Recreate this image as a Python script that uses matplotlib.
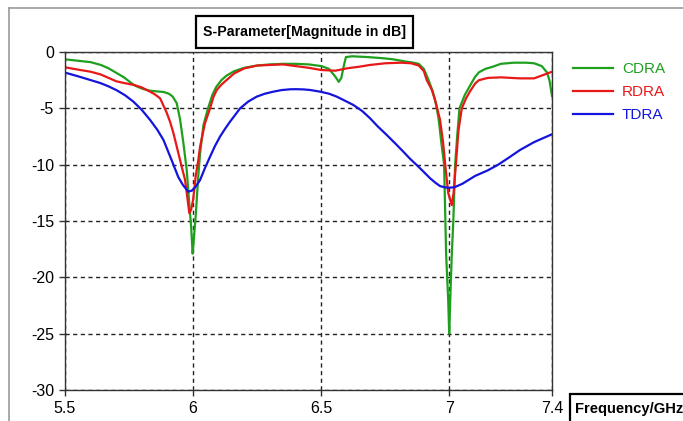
import matplotlib
matplotlib.use("Agg")
import matplotlib.pyplot as plt
from matplotlib.patches import Rectangle
from matplotlib.lines import Line2D

plt.rcParams['font.family'] = ['Liberation Sans', 'DejaVu Sans']
plt.rcParams['axes.unicode_minus'] = False

# CDRA (green)
cdra_f = [5.50, 5.56, 5.60, 5.64, 5.67, 5.70, 5.73, 5.77, 5.80, 5.83, 5.86, 5.885,
          5.905, 5.92, 5.936, 5.949, 5.962, 5.975, 5.985, 5.992, 5.998, 6.003, 6.01,
          6.02, 6.027, 6.04, 6.058, 6.075, 6.09, 6.11, 6.13, 6.16, 6.20, 6.25, 6.30,
          6.35, 6.40, 6.45, 6.50, 6.53, 6.555, 6.568, 6.578, 6.588, 6.596, 6.62, 6.68,
          6.74, 6.78, 6.83, 6.86, 6.88, 6.90, 6.915, 6.935, 6.948, 6.958, 6.968, 6.979,
          6.984, 6.987, 6.995, 6.999, 7.003, 7.009, 7.015, 7.022, 7.03, 7.039, 7.06,
          7.08, 7.10, 7.115, 7.14, 7.17, 7.20, 7.25, 7.30, 7.33, 7.36, 7.38, 7.39, 7.40]
cdra_db = [-0.65, -0.8, -0.9, -1.15, -1.45, -1.85, -2.25, -2.95, -3.25, -3.43, -3.5, -3.55,
           -3.7, -3.95, -4.55, -6.0, -8.1, -10.5, -13.5, -15.5, -17.9, -16.5, -14.5,
           -11.0, -9.0, -6.5, -5.0, -3.8, -3.1, -2.5, -2.1, -1.7, -1.4, -1.2, -1.1,
           -1.05, -1.05, -1.1, -1.25, -1.5, -2.2, -2.65, -2.3, -1.2, -0.45, -0.38, -0.45,
           -0.55, -0.65, -0.85, -0.95, -1.05, -1.5, -2.3, -3.5, -4.7, -6.0, -8.0, -10.0,
           -15.0, -18.0, -22.0, -25.0, -22.0, -18.0, -15.0, -10.0, -7.5, -5.0, -3.8,
           -3.0, -2.2, -1.8, -1.5, -1.3, -1.05, -0.95, -0.95, -1.0, -1.25, -1.8, -2.5, -3.9]

# RDRA (red)
rdra_f = [5.50, 5.56, 5.60, 5.64, 5.66, 5.70, 5.73, 5.77, 5.80, 5.83, 5.85, 5.871,
          5.889, 5.897, 5.91, 5.923, 5.936, 5.949, 5.96, 5.968, 5.975, 5.985, 5.992,
          6.0, 6.01, 6.02, 6.027, 6.046, 6.066, 6.079, 6.092, 6.11, 6.131, 6.16, 6.20,
          6.25, 6.30, 6.35, 6.40, 6.45, 6.50, 6.555, 6.60, 6.65, 6.69, 6.75, 6.81, 6.85,
          6.88, 6.90, 6.911, 6.93, 6.944, 6.963, 6.975, 6.983, 6.995, 7.009, 7.016,
          7.025, 7.035, 7.048, 7.065, 7.08, 7.10, 7.115, 7.15, 7.20, 7.275, 7.33,
          7.366, 7.40]
rdra_db = [-1.36, -1.6, -1.75, -2.0, -2.2, -2.6, -2.75, -2.93, -3.15, -3.5, -3.75, -4.11,
           -5.0, -5.4, -6.2, -7.2, -8.4, -9.6, -10.6, -11.3, -12.5, -14.3, -14.0,
           -13.1, -11.0, -9.6, -8.4, -6.33, -5.0, -4.0, -3.37, -2.9, -2.48, -1.9, -1.45,
           -1.2, -1.15, -1.1, -1.25, -1.4, -1.6, -1.66, -1.45, -1.3, -1.15, -1.0, -0.95, -1.0,
           -1.2, -1.7, -2.48, -3.3, -4.26, -6.0, -8.0, -9.9, -12.5, -13.6, -12.5,
           -10.0, -7.0, -5.0, -4.1, -3.5, -2.8, -2.5, -2.3, -2.25, -2.34, -2.34,
           -2.04, -1.75]

# TDRA (blue)
tdra_f = [5.50, 5.55, 5.598, 5.637, 5.67, 5.702, 5.735, 5.767, 5.80, 5.832, 5.86,
          5.884, 5.916, 5.942, 5.96, 5.981, 5.995, 6.01, 6.027, 6.046, 6.066, 6.085,
          6.105, 6.125, 6.144, 6.165, 6.183, 6.215, 6.248, 6.28, 6.313, 6.345, 6.378,
          6.40, 6.43, 6.456, 6.495, 6.53, 6.56, 6.59, 6.625, 6.66, 6.69, 6.72, 6.755,
          6.79, 6.82, 6.845, 6.872, 6.90, 6.924, 6.945, 6.963, 6.98, 6.995, 7.02,
          7.05, 7.10, 7.15, 7.19, 7.23, 7.275, 7.33, 7.40]
tdra_db = [-1.83, -2.15, -2.48, -2.75, -3.05, -3.4, -3.85, -4.41, -5.15, -6.03, -6.9,
           -7.8, -9.6, -11.1, -11.8, -12.4, -12.3, -11.95, -11.36, -10.3, -9.29, -8.35,
           -7.5, -6.8, -6.18, -5.55, -5.0, -4.4, -3.96, -3.7, -3.52, -3.38, -3.31,
           -3.3, -3.32, -3.37, -3.52, -3.7, -3.96, -4.3, -4.7, -5.25, -5.88, -6.6, -7.36,
           -8.15, -8.85, -9.45, -10.03, -10.65, -11.2, -11.6, -11.9, -12.0, -12.05, -12.0,
           -11.7, -11.0, -10.5, -10.0, -9.4, -8.7, -8.0, -7.3]

x_ticks = [5.5, 6, 6.5, 7, 7.4]
x_labels = ['5.5', '6', '6.5', '7', '7.4']
y_ticks = [-30, -25, -20, -15, -10, -5, 0]

W, H = 683, 421
fig = plt.figure(figsize=(W / 100, H / 100), dpi=100)
ax = fig.add_axes([65 / W, 1 - 390 / H, (552 - 65) / W, (390 - 52) / H])

green, red, blue = '#1ea01e', '#e81818', '#1414dc'
ax.plot(cdra_f, cdra_db, color=green, lw=1.6, label='CDRA')
ax.plot(rdra_f, rdra_db, color=red, lw=1.6, label='RDRA')
ax.plot(tdra_f, tdra_db, color=blue, lw=1.6, label='TDRA')

ax.set_xlim(5.5, 7.4)
ax.set_ylim(-30, 0)
ax.set_xticks(x_ticks)
ax.set_xticklabels(x_labels)
ax.set_yticks(y_ticks)
ax.tick_params(labelsize=11.5, length=4, width=1, color='#333333', pad=4)
ax.grid(True, color='#222222', linestyle=(0, (3, 2.5)), lw=1)
for s in ax.spines.values():
    s.set_color('#333333')
    s.set_linewidth(1)

ax.legend(loc='upper left', bbox_to_anchor=(567 / W, 1 - 56 / H),
          bbox_transform=fig.transFigure, frameon=False, fontsize=11,
          labelcolor='linecolor', handlelength=2.6, handletextpad=0.6,
          labelspacing=0.6, borderaxespad=0)

# outer frame
fig.add_artist(Line2D([9 / W, 1], [1 - 8 / H, 1 - 8 / H], transform=fig.transFigure,
                      color='#9a9a9a', lw=1.2))
fig.add_artist(Line2D([9 / W, 9 / W], [0, 1 - 8 / H], transform=fig.transFigure,
                      color='#9a9a9a', lw=1.2))

# title box
fig.add_artist(Rectangle((196 / W, 1 - 48 / H), (413 - 196) / W, 32 / H,
                         transform=fig.transFigure, fc='white', ec='black', lw=1.6))
fig.text(304.5 / W, 1 - 32 / H, 'S-Parameter[Magnitude in dB]', ha='center',
         va='center', fontsize=10.2, fontweight='bold')

# x label box
fig.add_artist(Rectangle((570 / W, -0.05), 0.2, 0.05 + 1 - 394 / H,
                         transform=fig.transFigure, fc='white', ec='black', lw=1.6))
fig.text(575 / W, 1 - 409 / H, 'Frequency/GHz', ha='left', va='center',
         fontsize=10.6, fontweight='bold')

fig.savefig('out.png', dpi=100)
